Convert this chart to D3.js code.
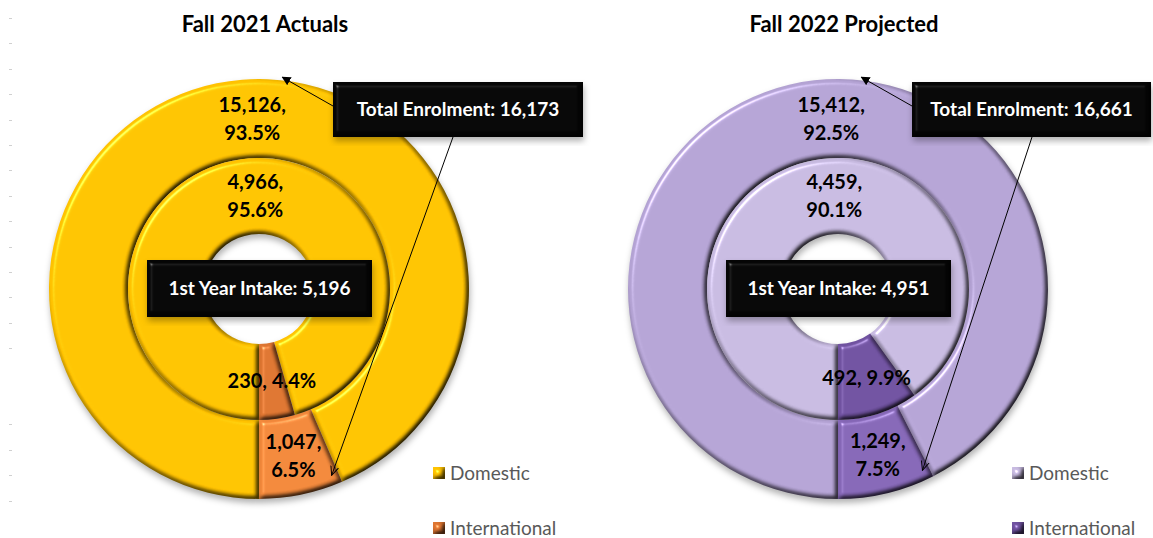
<!DOCTYPE html>
<html lang="en">
<head>
<meta charset="utf-8">
<title>Enrolment doughnuts</title>
<script src="https://cdn.jsdelivr.net/npm/d3@7"></script>
<style>
  body { margin: 0; background: #fff; }
  svg { display: block; font-family: Lato, "Open Sans", sans-serif; }
</style>
</head>
<body>
<div id="viz"></div>
<script>

// data
var titles = ["Fall 2021 Actuals", "Fall 2022 Projected"];
var categories = ["Domestic", "International"];
var totalEnrolment = [[15126, 1047], [15412, 1249]];   // outer ring
var firstYearIntake = [[4966, 230], [4459, 492]];      // inner ring

// colours per chart, per category
var outerColors = [["#FFC200", "#F0873A"], ["#B3A2D3", "#8466B5"]];
var innerColors = [["#FFC200", "#DC7430"], ["#C6B9DF", "#6F519F"]];

var w = 1153, h = 538;
var centers = [259, 838];
var cy = 289;
var rHole = 55, rMid = 131, rOuter = 210;

var fmtNum = d3.format(",");
var fmtPct = d3.format(".1%");

var svg = d3.select("#viz").append("svg")
  .attr("width", w)
  .attr("height", h);

var defs = svg.append("defs");

// bevel, roughly like the office "circle" bevel
var bevel = defs.append("filter").attr("id", "bevel")
  .attr("color-interpolation-filters", "sRGB")
  .attr("x", "-5%").attr("y", "-5%").attr("width", "110%").attr("height", "110%");
bevel.append("feGaussianBlur").attr("in", "SourceAlpha").attr("stdDeviation", 2.5).attr("result", "blur");
bevel.append("feDiffuseLighting").attr("in", "blur").attr("surfaceScale", 4)
  .attr("diffuseConstant", 1.16).attr("lighting-color", "#fff").attr("result", "diff")
  .append("feDistantLight").attr("azimuth", 225).attr("elevation", 60);
bevel.append("feComposite").attr("in", "SourceGraphic").attr("in2", "diff")
  .attr("operator", "arithmetic").attr("k1", 1).attr("result", "shaded");
bevel.append("feSpecularLighting").attr("in", "blur").attr("surfaceScale", 4)
  .attr("specularConstant", 0.4).attr("specularExponent", 40).attr("lighting-color", "#fff").attr("result", "spec")
  .append("feDistantLight").attr("azimuth", 225).attr("elevation", 45);
bevel.append("feComposite").attr("in", "spec").attr("in2", "SourceAlpha").attr("operator", "in").attr("result", "specIn");
bevel.append("feComposite").attr("in", "shaded").attr("in2", "specIn")
  .attr("operator", "arithmetic").attr("k2", 1).attr("k3", 1);

var shadow = defs.append("filter").attr("id", "shadow")
  .attr("color-interpolation-filters", "sRGB")
  .attr("x", "-10%").attr("y", "-10%").attr("width", "120%").attr("height", "125%");
shadow.append("feDropShadow").attr("dx", 1).attr("dy", 4).attr("stdDeviation", 3)
  .attr("flood-color", "#000").attr("flood-opacity", 0.3);

// arrow heads
defs.append("marker").attr("id", "headFilled")
  .attr("viewBox", "0 0 10 10").attr("refX", 9).attr("refY", 5)
  .attr("markerWidth", 9).attr("markerHeight", 9).attr("orient", "auto")
  .append("path").attr("d", "M0,0L10,5L0,10Z").attr("fill", "#000");
defs.append("marker").attr("id", "headOpen")
  .attr("viewBox", "0 0 10 10").attr("refX", 9).attr("refY", 5)
  .attr("markerWidth", 10).attr("markerHeight", 10).attr("orient", "auto")
  .append("path").attr("d", "M0,1L9,5L0,9").attr("fill", "none").attr("stroke", "#000").attr("stroke-width", 1);

// faint marks on the left edge
var edgeMarks = d3.range(18, 350, 25.4).concat(d3.range(424, 505, 25.7));
svg.selectAll(".edge").data(edgeMarks).enter().append("rect")
  .attr("x", 9).attr("y", function(d) { return Math.round(d); })
  .attr("width", 3).attr("height", 1).attr("fill", "#d0d0d0");

var pie = d3.pie().sort(null).startAngle(Math.PI).endAngle(3 * Math.PI);

var polar = function(a, r) {
  return [r * Math.sin(a), -r * Math.cos(a)];
};

titles.forEach(function(title, c) {

  var cx = centers[c];
  var g = svg.append("g").attr("transform", "translate(" + cx + "," + cy + ")");

  var rings = [
    { values: totalEnrolment[c], colors: outerColors[c], r0: rMid, r1: rOuter, outer: true },
    { values: firstYearIntake[c], colors: innerColors[c], r0: rHole, r1: rMid, outer: false }
  ];

  var slicesG = g.append("g").attr("filter", "url(#shadow)");

  rings.forEach(function(ring) {
    var arc = d3.arc().innerRadius(ring.r0).outerRadius(ring.r1);
    var total = d3.sum(ring.values);
    var arcs = pie(ring.values);
    ring.arcs = arcs;

    slicesG.selectAll(null).data(arcs).enter().append("path")
      .attr("d", arc)
      .attr("fill", function(d, i) { return ring.colors[i]; })
      .attr("filter", "url(#bevel)");

    // data labels
    arcs.forEach(function(d, i) {
      var p;
      if (i === 0) {
        p = polar(2 * Math.PI - 0.04, (ring.r0 + ring.r1) / 2);
      } else {
        p = arc.centroid(d);
      }
      var share = d.value / total;
      var lines = (!ring.outer && i > 0)
        ? [fmtNum(d.value) + ", " + fmtPct(share)]
        : [fmtNum(d.value) + ",", fmtPct(share)];
      var t = g.append("text")
        .attr("text-anchor", "middle")
        .attr("font-size", 20)
        .attr("font-weight", "bold")
        .attr("fill", "#000");
      lines.forEach(function(line, k) {
        t.append("tspan")
          .attr("x", p[0])
          .attr("y", p[1] + (k - (lines.length - 1) / 2) * 28)
          .attr("dy", "0.35em")
          .text(line);
      });
    });
  });

  // title
  svg.append("text")
    .attr("x", cx + 6)
    .attr("y", 32)
    .attr("text-anchor", "middle")
    .attr("font-size", 22)
    .attr("font-weight", "bold")
    .attr("fill", "#000")
    .text(title);

  // callout: total enrolment
  var grandTotal = d3.sum(totalEnrolment[c]);
  var bx = cx + 74, by = 82, bw = Math.min(250, w - 2 - bx), bh = 55;

  var intl = rings[0].arcs[1];
  var tipTop = polar(0.11, rOuter + 3);
  var tipBottom = polar(intl.startAngle + 0.035, rOuter - 10);

  g.append("line")
    .attr("x1", bx - cx).attr("y1", by + 24 - cy)
    .attr("x2", tipTop[0]).attr("y2", tipTop[1])
    .attr("stroke", "#000").attr("stroke-width", 1)
    .attr("marker-end", "url(#headFilled)");
  g.append("line")
    .attr("x1", bx + 120 - cx).attr("y1", by + bh - cy)
    .attr("x2", tipBottom[0]).attr("y2", tipBottom[1])
    .attr("stroke", "#000").attr("stroke-width", 1)
    .attr("marker-end", "url(#headOpen)");

  var boxes = [
    { x: bx, y: by, w: bw, h: bh, text: "Total Enrolment: " + fmtNum(grandTotal) },
    { x: cx - 112, y: 260, w: 225, h: 57, text: "1st Year Intake: " + fmtNum(d3.sum(firstYearIntake[c])) }
  ];

  boxes.forEach(function(b) {
    var bg = svg.append("g").attr("filter", "url(#shadow)");
    bg.append("rect")
      .attr("x", b.x).attr("y", b.y)
      .attr("width", b.w).attr("height", b.h)
      .attr("fill", "#050505")
      .attr("filter", "url(#bevel)");
    svg.append("text")
      .attr("x", b.x + b.w / 2)
      .attr("y", b.y + b.h / 2)
      .attr("dy", "0.35em")
      .attr("text-anchor", "middle")
      .attr("font-size", 19)
      .attr("font-weight", "bold")
      .attr("fill", "#fff")
      .text(b.text);
  });

  // legend
  var legend = svg.append("g").attr("transform", "translate(" + (cx + 174) + ",0)");
  categories.forEach(function(cat, i) {
    var ly = 467 + i * 55;
    legend.append("rect")
      .attr("x", 0).attr("y", ly)
      .attr("width", 12).attr("height", 12)
      .attr("fill", innerColors[c][i])
      .attr("filter", "url(#bevel)");
    legend.append("text")
      .attr("x", 17)
      .attr("y", ly + 6)
      .attr("dy", "0.35em")
      .attr("font-size", 19)
      .attr("fill", "#595959")
      .text(cat);
  });

});

</script>
</body>
</html>
